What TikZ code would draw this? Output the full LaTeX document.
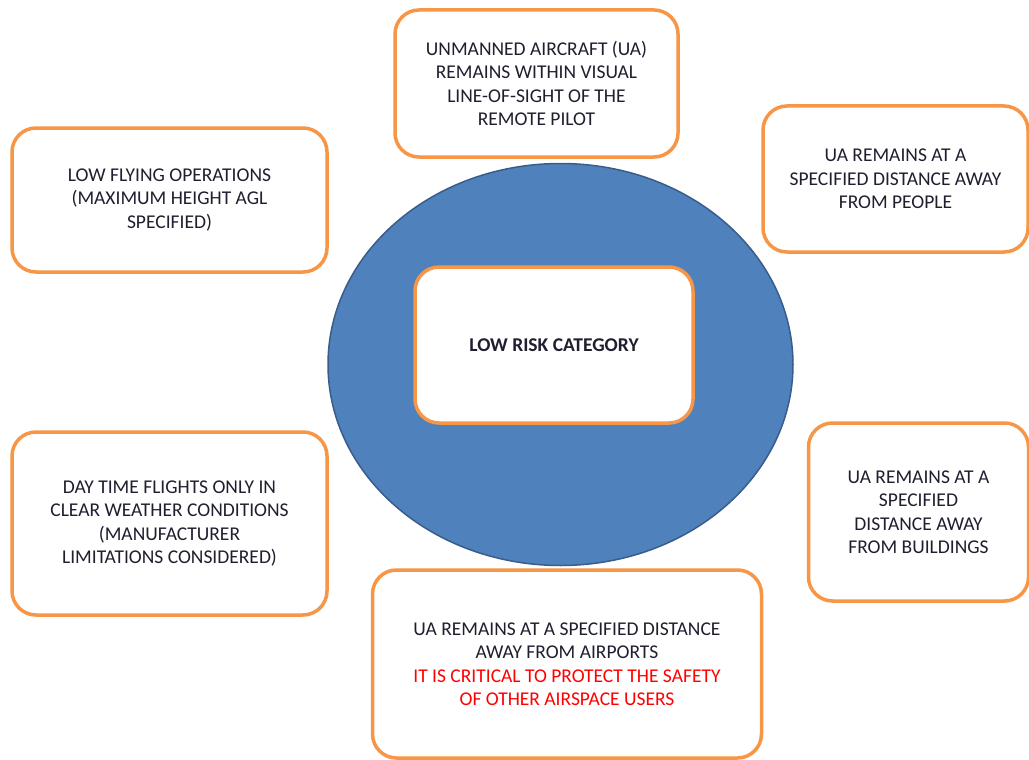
\documentclass[tikz,border=0pt]{standalone}
\usepackage{fontspec}
\setmainfont{Carlito}
\usetikzlibrary{shapes.geometric}
\definecolor{boxorange}{HTML}{F79646}
\definecolor{ellblue}{HTML}{4F81BD}
\definecolor{ellborder}{HTML}{385D8A}
\definecolor{alertred}{HTML}{FF0000}
\definecolor{txt}{HTML}{1F1F2F}
\tikzset{
  infobox/.style={draw=boxorange, line width=3.5pt, rounded corners=24pt, fill=white,
    align=center, text=txt, inner sep=0pt,
    font=\fontsize{19.5}{23.5}\selectfont},
}
\begin{document}
\begin{tikzpicture}[x=1pt,y=-1pt]
\useasboundingbox (0,0) rectangle (1029,760);
\fill[white] (0,0) rectangle (1029,760);
% central ellipse
\node[ellipse, draw=ellborder, line width=1.5pt, fill=ellblue,
  minimum width=465pt, minimum height=402pt, inner sep=0pt] (ell) at (560.5,364.5) {};
\node[infobox, minimum width=278pt, minimum height=156pt,
  font=\fontsize{19.5}{23.5}\selectfont\bfseries] (core) at (554,345) {LOW RISK CATEGORY};
% surrounding boxes
\node[infobox, minimum width=283pt, minimum height=147pt] (top) at (536.5,83.5)
  {UNMANNED AIRCRAFT (UA)\\REMAINS WITHIN VISUAL\\LINE-OF-SIGHT OF THE\\REMOTE PILOT};
\node[infobox, minimum width=265pt, minimum height=146pt] (people) at (895.5,179)
  {UA REMAINS AT A\\SPECIFIED DISTANCE AWAY\\FROM PEOPLE};
\node[infobox, minimum width=315pt, minimum height=144pt] (height) at (169.5,200)
  {LOW FLYING OPERATIONS\\(MAXIMUM HEIGHT AGL\\SPECIFIED)};
\node[infobox, minimum width=315pt, minimum height=183pt] (day) at (169.5,523.5)
  {DAY TIME FLIGHTS ONLY IN\\CLEAR WEATHER CONDITIONS\\(MANUFACTURER\\LIMITATIONS CONSIDERED)};
\node[infobox, minimum width=220pt, minimum height=178pt] (build) at (918.5,512)
  {UA REMAINS AT A\\SPECIFIED\\DISTANCE AWAY\\FROM BUILDINGS};
\node[infobox, minimum width=389pt, minimum height=188pt] (air) at (567,664)
  {UA REMAINS AT A SPECIFIED DISTANCE\\AWAY FROM AIRPORTS\\
   \textcolor{alertred}{IT IS CRITICAL TO PROTECT THE SAFETY}\\
   \textcolor{alertred}{OF OTHER AIRSPACE USERS}};
\end{tikzpicture}
\end{document}
